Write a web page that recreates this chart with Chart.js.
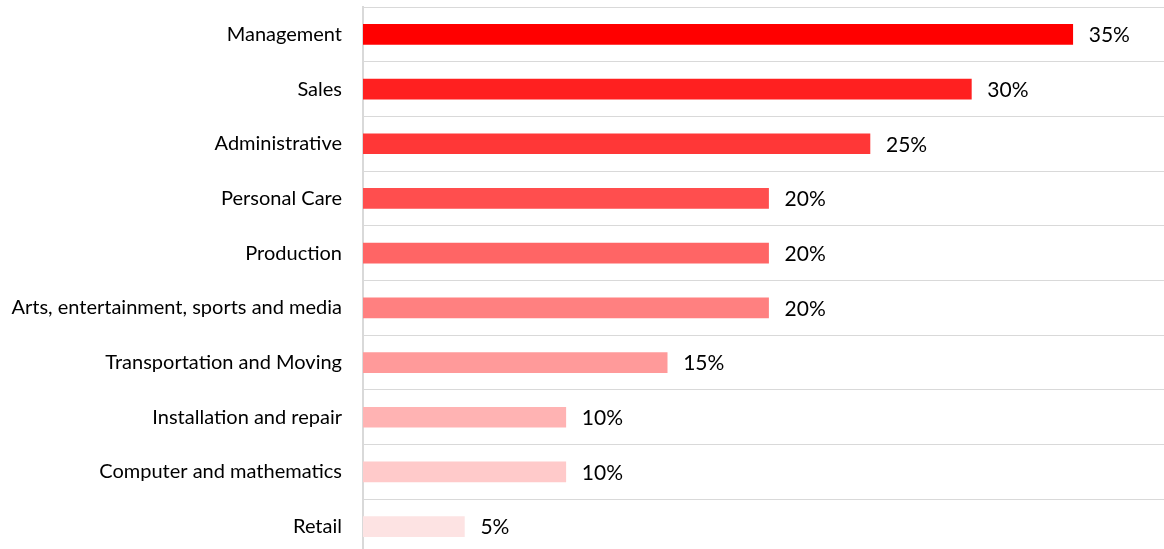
<!DOCTYPE html>
<html>
<head>
<meta charset="utf-8">
<script src="https://cdn.jsdelivr.net/npm/chart.js@4"></script>
<style>
  html, body { margin: 0; padding: 0; background: #fff; overflow: hidden; }
  #wrap { position: relative; width: 1164px; height: 554px; }
</style>
</head>
<body>
<div id="wrap"><canvas id="jobs-chart"></canvas></div>
<script>
const categories = [
  "Management",
  "Sales",
  "Administrative",
  "Personal Care",
  "Production",
  "Arts, entertainment, sports and media",
  "Transportation and Moving",
  "Installation and repair",
  "Computer and mathematics",
  "Retail",
];
const shares = [35, 30, 25, 20, 20, 20, 15, 10, 10, 5];
const barColors = [
  "#ff0000", "#ff2020", "#ff3737", "#ff4e4e", "#ff6565",
  "#ff8080", "#ff9a9a", "#ffb3b3", "#ffcaca", "#fde3e3",
];

const LABEL_FONT = "Lato, 'Open Sans', sans-serif";

// value labels to the right of each bar
const valueLabels = {
  id: "valueLabels",
  afterDatasetsDraw(chart) {
    const ctx = chart.ctx;
    const meta = chart.getDatasetMeta(0);
    ctx.save();
    ctx.font = "21px " + LABEL_FONT;
    ctx.fillStyle = "#000";
    ctx.textAlign = "left";
    ctx.textBaseline = "middle";
    meta.data.forEach((bar, i) => {
      ctx.fillText(shares[i] + "%", bar.x + 16, bar.y + 1);
    });
    ctx.restore();
  },
};

const divCanvas = document.getElementById("jobs-chart").getContext("2d");

const chart = new Chart(divCanvas, {
  type: "bar",
  data: {
    labels: categories,
    datasets: [
      {
        data: shares,
        backgroundColor: barColors,
        barThickness: 20,
      },
    ],
  },
  options: {
    indexAxis: "y",
    responsive: true,
    maintainAspectRatio: false,
    animation: false,
    layout: { padding: { top: 7, right: 0, bottom: 0, left: 0 } },
    plugins: {
      legend: { display: false },
      tooltip: { enabled: false },
    },
    scales: {
      x: {
        display: false,
        min: 0,
        max: 39.5,
      },
      y: {
        afterFit(scale) {
          // fixed label column, no extra space above/below the bands
          scale.width = 363;
          scale.paddingTop = 0;
          scale.paddingBottom = 0;
        },
        grid: {
          color: "#d9d9d9",
          lineWidth: 1,
          drawTicks: false,
          offset: true,
        },
        border: { color: "#d9d9d9", width: 2 },
        ticks: {
          color: "#000",
          padding: 21,
          font: { family: LABEL_FONT, size: 20 },
        },
      },
    },
  },
  plugins: [valueLabels],
});
</script>
</body>
</html>
